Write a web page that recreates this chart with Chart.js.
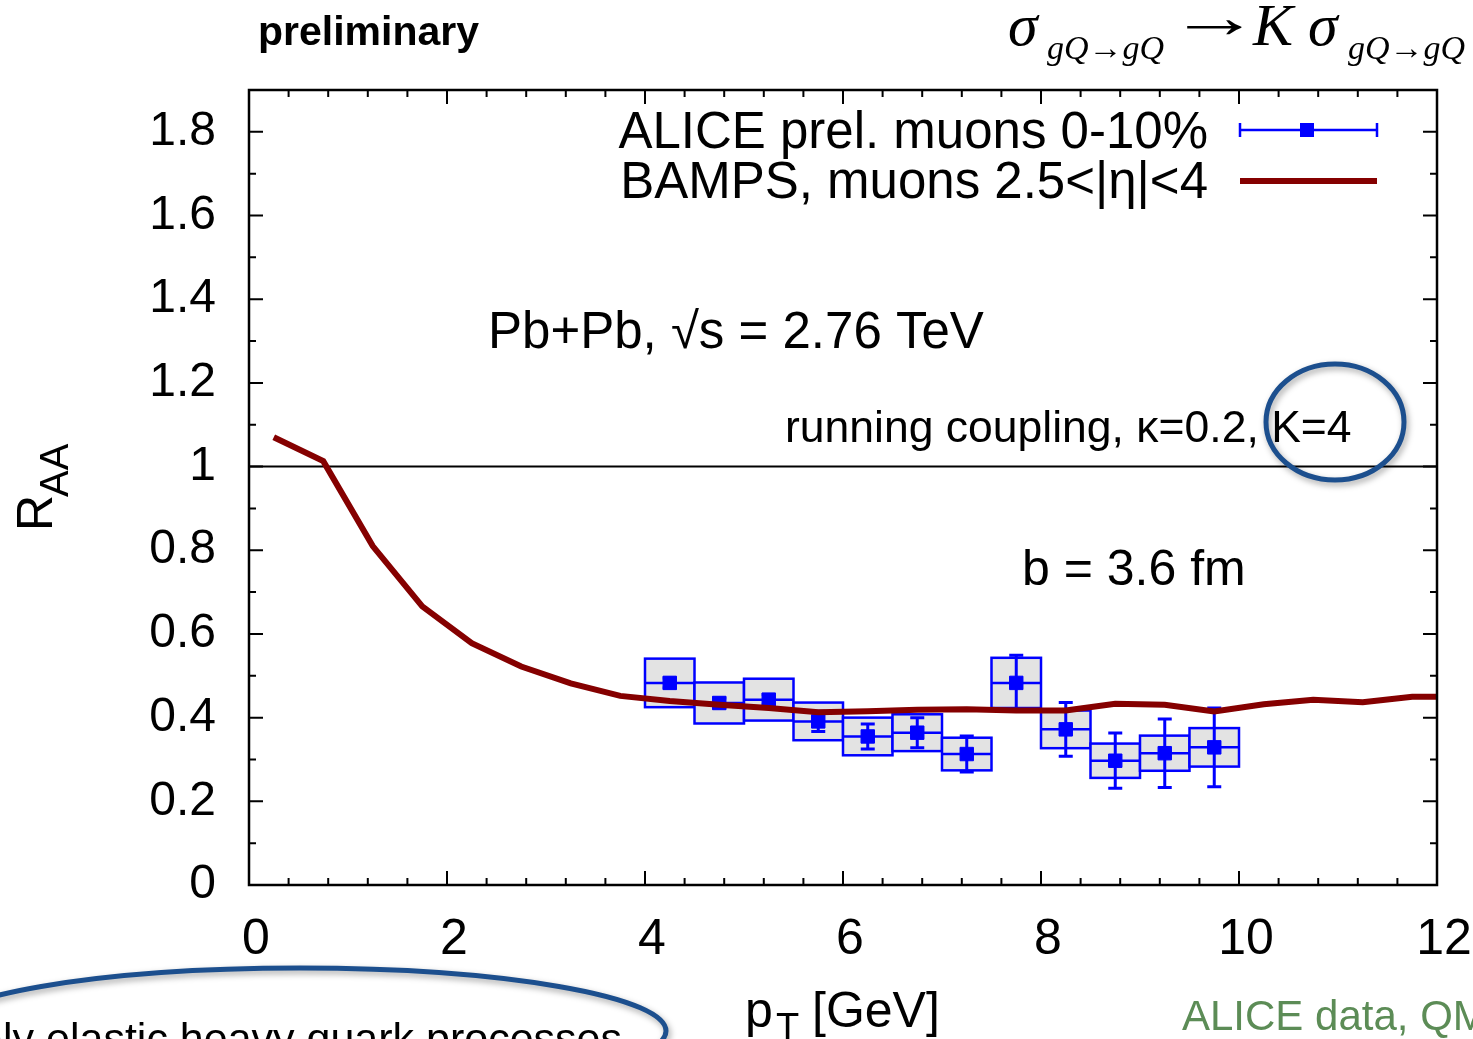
<!DOCTYPE html>
<html>
<head>
<meta charset="utf-8">
<script src="https://cdn.jsdelivr.net/npm/chart.js@4.4.1/dist/chart.umd.min.js"></script>
<style>
  html, body { margin: 0; padding: 0; background: #fff; overflow: hidden; }
  #raa { display: block; }
</style>
</head>
<body>
<canvas id="raa" width="1473" height="1039"></canvas>
<script>
// ALICE preliminary muons 0-10% (pT bin centres, RAA, stat and syst errors)
const alicePt   = [4.25, 4.75, 5.25, 5.75, 6.25, 6.75, 7.25, 7.75, 8.25, 8.75, 9.25, 9.75];
const aliceRaa  = [0.483, 0.435, 0.443, 0.391, 0.355, 0.364, 0.313, 0.483, 0.372, 0.297, 0.315, 0.329];
const aliceStat = [0.012, 0.012, 0.012, 0.024, 0.030, 0.036, 0.043, 0.066, 0.064, 0.066, 0.082, 0.094];
const aliceSys  = [0.058, 0.049, 0.050, 0.045, 0.045, 0.044, 0.039, 0.060, 0.045, 0.041, 0.042, 0.046];
const aliceBinHalf = 0.25;

// BAMPS muons 2.5<|eta|<4
const bampsPt  = [0.25, 0.75, 1.25, 1.75, 2.25, 2.75, 3.25, 3.75, 4.25, 4.75, 5.25, 5.75,
                  6.25, 6.75, 7.25, 7.75, 8.25, 8.75, 9.25, 9.75, 10.25, 10.75, 11.25, 11.75, 12.25];
const bampsRaa = [1.07, 1.013, 0.81, 0.666, 0.578, 0.522, 0.482, 0.452, 0.44, 0.431, 0.423, 0.413,
                  0.415, 0.419, 0.42, 0.417, 0.417, 0.433, 0.431, 0.415, 0.432, 0.443, 0.437, 0.45, 0.45];

const xTicks = [0, 2, 4, 6, 8, 10, 12];
const xTickLabels = ['0', '2', '4', '6', '8', '10', '12'];
const yTicks = [0, 0.2, 0.4, 0.6, 0.8, 1, 1.2, 1.4, 1.6, 1.8];
const yTickLabels = ['0', '0.2', '0.4', '0.6', '0.8', '1', '1.2', '1.4', '1.6', '1.8'];

const SANS = '"Liberation Sans", Arial, Helvetica, sans-serif';
const SERIF = '"Liberation Serif", "Times New Roman", serif';
const BLUE = '#0000ff';
const DARKRED = '#850000';
const OVAL = '#1c4f8e';

function ellipse(ctx, cx, cy, rx, ry) {
  ctx.save();
  ctx.shadowColor = 'rgba(0,0,0,0.35)';
  ctx.shadowBlur = 6;
  ctx.shadowOffsetX = 2;
  ctx.shadowOffsetY = 3;
  ctx.strokeStyle = OVAL;
  ctx.lineWidth = 5;
  ctx.beginPath();
  ctx.ellipse(cx, cy, rx, ry, 0, 0, Math.PI * 2);
  ctx.stroke();
  ctx.restore();
}

// serif arrow whose ink is stretched to span x0..x1 with its shaft at midY
function arrow(ctx, x0, x1, midY, size) {
  ctx.save();
  ctx.font = size + 'px ' + SERIF;
  const m = ctx.measureText('\u2192');
  const inkL = -m.actualBoundingBoxLeft;
  const inkR = m.actualBoundingBoxRight;
  const s = (x1 - x0) / (inkR - inkL);
  const base = midY + (m.actualBoundingBoxAscent - m.actualBoundingBoxDescent) / 2;
  ctx.translate(x0 - inkL * s, base);
  ctx.scale(s, 1);
  ctx.fillText('\u2192', 0, 0);
  ctx.restore();
}

const gnuplotLook = {
  id: 'gnuplotLook',
  beforeDatasetsDraw(chart) {
    const { ctx, chartArea: a, scales: { x, y } } = chart;
    ctx.save();
    // RAA = 1 line
    ctx.strokeStyle = '#000';
    ctx.lineWidth = 2;
    const y1 = y.getPixelForValue(1);
    ctx.beginPath();
    ctx.moveTo(a.left, y1);
    ctx.lineTo(a.right, y1);
    ctx.stroke();

    // systematic boxes
    ctx.lineWidth = 2.5;
    ctx.strokeStyle = BLUE;
    ctx.fillStyle = '#e3e3e3';
    alicePt.forEach((pt, i) => {
      const l = x.getPixelForValue(pt - aliceBinHalf);
      const r = x.getPixelForValue(pt + aliceBinHalf);
      const t = y.getPixelForValue(aliceRaa[i] + aliceSys[i]);
      const b = y.getPixelForValue(aliceRaa[i] - aliceSys[i]);
      ctx.fillRect(l, t, r - l, b - t);
      ctx.strokeRect(l, t, r - l, b - t);
    });

    // bin width bars and stat error bars
    alicePt.forEach((pt, i) => {
      const l = x.getPixelForValue(pt - aliceBinHalf);
      const r = x.getPixelForValue(pt + aliceBinHalf);
      const cx = x.getPixelForValue(pt);
      const cy = y.getPixelForValue(aliceRaa[i]);
      const t = y.getPixelForValue(aliceRaa[i] + aliceStat[i]);
      const b = y.getPixelForValue(aliceRaa[i] - aliceStat[i]);
      ctx.lineWidth = 2.5;
      ctx.beginPath();
      ctx.moveTo(l, cy); ctx.lineTo(r, cy);
      ctx.stroke();
      ctx.lineWidth = 3;
      ctx.beginPath();
      ctx.moveTo(cx, t); ctx.lineTo(cx, b);
      ctx.moveTo(cx - 7, t); ctx.lineTo(cx + 7, t);
      ctx.moveTo(cx - 7, b); ctx.lineTo(cx + 7, b);
      ctx.stroke();
    });
    ctx.restore();
  },
  afterDraw(chart) {
    const { ctx, chartArea: a, scales: { x, y } } = chart;
    ctx.save();

    // frame
    ctx.strokeStyle = '#000';
    ctx.lineWidth = 2.5;
    ctx.strokeRect(a.left, a.top, a.right - a.left, a.bottom - a.top);

    // inward ticks on all four sides
    ctx.lineWidth = 2;
    ctx.beginPath();
    for (let i = 0; i <= 30; i++) {
      const px = x.getPixelForValue(i * 0.4);
      const len = (i % 5 === 0) ? 14 : 7;
      ctx.moveTo(px, a.bottom); ctx.lineTo(px, a.bottom - len);
      ctx.moveTo(px, a.top); ctx.lineTo(px, a.top + len);
    }
    for (let i = 0; i <= 19; i++) {
      const py = y.getPixelForValue(i * 0.1);
      const len = (i % 2 === 0) ? 14 : 7;
      ctx.moveTo(a.left, py); ctx.lineTo(a.left + len, py);
      ctx.moveTo(a.right, py); ctx.lineTo(a.right - len, py);
    }
    ctx.stroke();

    // legend
    ctx.fillStyle = '#000';
    ctx.textAlign = 'right';
    ctx.textBaseline = 'alphabetic';
    ctx.font = '51px ' + SANS;
    ctx.fillText('ALICE prel. muons 0-10%', 1208, 148);
    ctx.fillText('BAMPS, muons 2.5<|\u03b7|<4', 1208, 198);
    ctx.strokeStyle = BLUE;
    ctx.lineWidth = 2.5;
    ctx.beginPath();
    ctx.moveTo(1240, 130); ctx.lineTo(1377, 130);
    ctx.moveTo(1240, 123); ctx.lineTo(1240, 137);
    ctx.moveTo(1377, 123); ctx.lineTo(1377, 137);
    ctx.stroke();
    ctx.fillStyle = BLUE;
    ctx.fillRect(1300, 123, 14, 14);
    ctx.strokeStyle = DARKRED;
    ctx.lineWidth = 6;
    ctx.beginPath();
    ctx.moveTo(1240, 181); ctx.lineTo(1377, 181);
    ctx.stroke();

    // annotations
    ctx.fillStyle = '#000';
    ctx.textAlign = 'left';
    ctx.font = '51px ' + SANS;
    ctx.fillText('Pb+Pb, \u221as = 2.76 TeV', 488, 348);
    ctx.font = '50px ' + SANS;
    ctx.fillText('b = 3.6 fm', 1022, 585);
    ctx.font = '44.5px ' + SANS;
    ctx.fillText('running coupling, \u03ba=0.2, K=4', 785, 442);

    ctx.font = 'bold 41px ' + SANS;
    ctx.fillText('preliminary', 258, 45);

    // formula
    ctx.font = 'italic 60px ' + SERIF;
    ctx.fillText('\u03c3', 1008, 45);
    ctx.fillText('K', 1253, 45);
    ctx.fillText('\u03c3', 1308, 45);
    ctx.font = 'italic 34px ' + SERIF;
    ctx.fillText('gQ\u2192gQ', 1047, 59);
    ctx.fillText('gQ\u2192gQ', 1348, 59);
    arrow(ctx, 1187, 1242, 27, 60);

    // axis titles
    ctx.fillStyle = '#000';
    ctx.font = '50px ' + SANS;
    ctx.fillText('p', 745, 1027);
    ctx.fillText('[GeV]', 812, 1027);
    ctx.font = '38px ' + SANS;
    ctx.fillText('T', 776, 1040);

    ctx.save();
    ctx.translate(52, 531);
    ctx.rotate(-Math.PI / 2);
    ctx.font = '50px ' + SANS;
    ctx.fillText('R', 0, 0);
    ctx.font = '40px ' + SANS;
    ctx.fillText('AA', 34, 16);
    ctx.restore();

    ctx.fillStyle = '#5c8c56';
    ctx.font = '42px ' + SANS;
    ctx.fillText('ALICE data, QM', 1182, 1030);

    ctx.fillStyle = '#000';
    ctx.font = '43px ' + SANS;
    ctx.textAlign = 'right';
    ctx.fillText('Only elastic heavy quark processes', 622, 1053);

    // highlight ovals
    ellipse(ctx, 1335, 422, 69, 58);
    ellipse(ctx, 300, 1031, 366, 63);

    ctx.restore();
  }
};

new Chart(document.getElementById('raa'), {
  type: 'scatter',
  data: {
    datasets: [
      {
        type: 'line',
        label: 'BAMPS, muons 2.5<|\u03b7|<4',
        data: bampsPt.map((v, i) => ({ x: v, y: bampsRaa[i] })),
        borderColor: DARKRED,
        borderWidth: 6,
        pointRadius: 0,
        tension: 0,
        fill: false,
        order: 0
      },
      {
        label: 'ALICE prel. muons 0-10%',
        data: alicePt.map((v, i) => ({ x: v, y: aliceRaa[i] })),
        pointStyle: 'rect',
        pointRadius: 9.5,
        backgroundColor: BLUE,
        borderColor: BLUE,
        borderWidth: 1,
        order: 1
      }
    ]
  },
  options: {
    responsive: false,
    animation: false,
    devicePixelRatio: 1,
    layout: { padding: { left: 0, top: 90, right: 36, bottom: 0 } },
    plugins: { legend: { display: false }, tooltip: { enabled: false } },
    scales: {
      x: {
        type: 'linear',
        min: 0,
        max: 12,
        grid: { display: false },
        border: { display: false },
        afterBuildTicks: s => { s.ticks = xTicks.map(v => ({ value: v })); },
        afterFit: s => { s.height = 154; s.paddingLeft = 0; s.paddingRight = 0; },
        ticks: {
          autoSkip: false,
          maxRotation: 0,
          padding: 17,
          labelOffset: 7,
          color: '#000',
          font: { family: SANS, size: 50, lineHeight: 1.2 },
          callback: (v, i) => xTickLabels[i]
        }
      },
      y: {
        type: 'linear',
        min: 0,
        max: 1.9,
        grid: { display: false },
        border: { display: false },
        afterBuildTicks: s => { s.ticks = yTicks.map(v => ({ value: v })); },
        afterFit: s => { s.width = 249; s.paddingTop = 0; s.paddingBottom = 0; },
        ticks: {
          autoSkip: false,
          padding: 25,
          color: '#000',
          font: { family: SANS, size: 48, lineHeight: 1.2 },
          callback: (v, i) => yTickLabels[i]
        }
      }
    }
  },
  plugins: [gnuplotLook]
});
</script>
</body>
</html>
